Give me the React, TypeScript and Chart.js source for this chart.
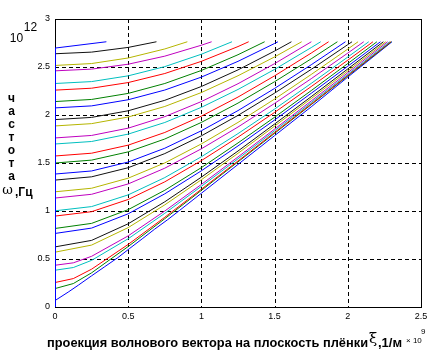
import React, { useEffect, useRef } from "react";
import { Chart, registerables } from "chart.js";
Chart.register(...registerables);

// ---- axis ticks ----
const xTicks = [0, 0.5, 1, 1.5, 2, 2.5];
const yTicks = [0, 0.5, 1, 1.5, 2, 2.5, 3];

// MATLAB classic colour order: b g r c m y k
const modeColors = ["#0000FF", "#008000", "#FF0000", "#00BFBF", "#BF00BF", "#B5B500", "#111111"];

// ---- dispersion curves [xi (x1e9 1/m), omega (x1e12 Hz)] ----
const mode00 = [[0, 0.067], [0.09, 0.155], [0.16, 0.228], [0.25, 0.325], [0.34, 0.42], [0.43, 0.515], [0.51, 0.61], [0.6, 0.715], [0.68, 0.81], [0.77, 0.91], [0.85, 1.005], [1.0, 1.185], [1.25, 1.485], [1.5, 1.785], [1.75, 2.085], [2.0, 2.395], [2.302, 2.763]];
const mode01 = [[0, 0.192], [0.125, 0.244], [0.25, 0.356], [0.5, 0.63], [0.75, 0.92], [1.0, 1.215], [1.25, 1.512], [1.5, 1.809], [1.75, 2.108], [2.0, 2.407], [2.298, 2.763]];
const mode02 = [[0, 0.255], [0.125, 0.296], [0.25, 0.394], [0.5, 0.652], [0.75, 0.935], [1.0, 1.227], [1.25, 1.521], [1.5, 1.818], [1.75, 2.115], [2.0, 2.413], [2.293, 2.763]];
const mode03 = [[0, 0.383], [0.125, 0.411], [0.25, 0.486], [0.5, 0.711], [0.75, 0.976], [1.0, 1.257], [1.25, 1.544], [1.5, 1.836], [1.75, 2.129], [2.0, 2.424], [2.286, 2.763]];
const mode04 = [[0, 0.435], [0.125, 0.46], [0.25, 0.528], [0.5, 0.741], [0.75, 1.0], [1.0, 1.277], [1.25, 1.563], [1.5, 1.853], [1.75, 2.146], [2.0, 2.441], [2.272, 2.763]];
const mode05 = [[0, 0.571], [0.25, 0.645], [0.5, 0.827], [0.75, 1.064], [1.0, 1.326], [1.25, 1.601], [1.5, 1.884], [1.75, 2.171], [2.0, 2.46], [2.259, 2.763]];
const mode06 = [[0, 0.626], [0.25, 0.694], [0.5, 0.867], [0.75, 1.096], [1.0, 1.353], [1.25, 1.625], [1.5, 1.906], [1.75, 2.191], [2.0, 2.48], [2.243, 2.763]];
const mode07 = [[0, 0.766], [0.25, 0.822], [0.5, 0.971], [0.75, 1.179], [1.0, 1.419], [1.25, 1.678], [1.5, 1.948], [1.75, 2.226], [2.0, 2.508], [2.223, 2.763]];
const mode08 = [[0, 0.818], [0.25, 0.871], [0.5, 1.014], [0.75, 1.216], [1.0, 1.452], [1.25, 1.709], [1.5, 1.977], [1.75, 2.254], [2.0, 2.536], [2.199, 2.763]];
const mode09 = [[0, 0.947], [0.25, 0.993], [0.5, 1.12], [0.75, 1.304], [1.0, 1.525], [1.25, 1.769], [1.5, 2.027], [1.75, 2.296], [2.0, 2.571], [2.172, 2.763]];
const mode10 = [[0, 1.002], [0.25, 1.046], [0.5, 1.168], [0.75, 1.348], [1.0, 1.565], [1.25, 1.806], [1.5, 2.062], [1.75, 2.329], [2.0, 2.604], [2.143, 2.763]];
const mode11 = [[0, 1.135], [0.25, 1.174], [0.5, 1.282], [0.75, 1.446], [1.0, 1.648], [1.25, 1.875], [1.5, 2.121], [1.75, 2.378], [2.0, 2.645], [2.109, 2.763]];
const mode12 = [[0, 1.2], [0.25, 1.237], [0.5, 1.342], [0.75, 1.501], [1.0, 1.699], [1.25, 1.923], [1.5, 2.166], [1.75, 2.422], [2.0, 2.687], [2.07, 2.763]];
const mode13 = [[0, 1.322], [0.25, 1.356], [0.5, 1.451], [0.75, 1.598], [1.0, 1.783], [1.25, 1.996], [1.5, 2.228], [1.75, 2.475], [2.0, 2.733], [2.029, 2.763]];
const mode14 = [[0, 1.385], [0.25, 1.417], [0.5, 1.51], [0.75, 1.654], [1.0, 1.836], [1.25, 2.046], [1.5, 2.277], [1.75, 2.523], [1.984, 2.763]];
const mode15 = [[0, 1.5], [0.25, 1.53], [0.5, 1.616], [0.75, 1.75], [1.0, 1.923], [1.25, 2.124], [1.5, 2.347], [1.75, 2.585], [1.929, 2.763]];
const mode16 = [[0, 1.573], [0.25, 1.602], [0.5, 1.686], [0.75, 1.818], [1.0, 1.988], [1.25, 2.187], [1.5, 2.408], [1.75, 2.645], [1.869, 2.763]];
const mode17 = [[0, 1.698], [0.25, 1.724], [0.5, 1.801], [0.75, 1.922], [1.0, 2.08], [1.25, 2.266], [1.5, 2.475], [1.75, 2.702], [1.815, 2.763]];
const mode18 = [[0, 1.761], [0.25, 1.787], [0.5, 1.863], [0.75, 1.983], [1.0, 2.14], [1.25, 2.326], [1.5, 2.535], [1.751, 2.763]];
const mode19 = [[0, 1.886], [0.25, 1.91], [0.5, 1.979], [0.75, 2.089], [1.0, 2.234], [1.25, 2.409], [1.5, 2.605], [1.685, 2.763]];
const mode20 = [[0, 1.952], [0.25, 1.975], [0.5, 2.044], [0.75, 2.153], [1.0, 2.297], [1.25, 2.47], [1.5, 2.666], [1.615, 2.763]];
const mode21 = [[0, 2.074], [0.25, 2.095], [0.5, 2.159], [0.75, 2.26], [1.0, 2.395], [1.25, 2.559], [1.5, 2.745], [1.523, 2.763]];
const mode22 = [[0, 2.14], [0.25, 2.162], [0.5, 2.225], [0.75, 2.328], [1.0, 2.464], [1.25, 2.628], [1.432, 2.763]];
const mode23 = [[0, 2.259], [0.25, 2.279], [0.5, 2.338], [0.75, 2.432], [1.0, 2.559], [1.25, 2.713], [1.323, 2.763]];
const mode24 = [[0, 2.328], [0.25, 2.348], [0.5, 2.408], [0.75, 2.504], [1.0, 2.633], [1.209, 2.763]];
const mode25 = [[0, 2.46], [0.25, 2.478], [0.5, 2.529], [0.75, 2.613], [1.0, 2.727], [1.07, 2.763]];
const mode26 = [[0, 2.516], [0.25, 2.536], [0.5, 2.594], [0.75, 2.688], [0.904, 2.763]];
const mode27 = [[0, 2.638], [0.25, 2.655], [0.5, 2.704], [0.693, 2.763]];
const mode28 = [[0, 2.697], [0.351, 2.763]];
const zeroXiLine = [[0, 0], [0, 2.697]];

const modes = [mode00, mode01, mode02, mode03, mode04, mode05, mode06, mode07, mode08, mode09,
  mode10, mode11, mode12, mode13, mode14, mode15, mode16, mode17, mode18, mode19,
  mode20, mode21, mode22, mode23, mode24, mode25, mode26, mode27, mode28];

// ---- texts ----
const yTitleLetters = ["ч", "а", "с", "т", "о", "т", "а"];
const yOmega = "ω";
const yUnit = ",Гц";
const yMultBase = "10";
const yMultExp = "12";
const xTitle = "проекция волнового вектора на плоскость плёнки";
const xXi = "ξ";
const xUnit = ",1/м";
const xMultBase = "× 10";
const xMultExp = "9";

const FONT = "'Liberation Sans', Arial, sans-serif";

const framePlugin = {
  id: "frame",
  beforeDatasetsDraw(chart: any) {
    const { ctx, chartArea, scales } = chart;
    const { left, right, top, bottom } = chartArea;
    ctx.save();
    ctx.strokeStyle = "#000";
    ctx.lineWidth = 1;
    ctx.setLineDash([4, 3]);
    xTicks.forEach((v) => {
      if (v <= 0 || v >= 2.5) return;
      const px = Math.round(scales.x.getPixelForValue(v)) + 0.5;
      ctx.beginPath();
      ctx.moveTo(px, top);
      ctx.lineTo(px, bottom);
      ctx.stroke();
    });
    yTicks.forEach((v) => {
      if (v <= 0 || v >= 3) return;
      const py = Math.round(scales.y.getPixelForValue(v)) + 0.5;
      ctx.beginPath();
      ctx.moveTo(left, py);
      ctx.lineTo(right, py);
      ctx.stroke();
    });
    ctx.setLineDash([]);
    ctx.strokeRect(left + 0.5, top + 0.5, right - left, bottom - top);
    ctx.restore();
  },
  afterDraw(chart: any) {
    const { ctx } = chart;
    ctx.save();
    ctx.fillStyle = "#000";
    ctx.textBaseline = "middle";
    // y title (vertical stack)
    ctx.textAlign = "center";
    ctx.font = `bold 12px ${FONT}`;
    yTitleLetters.forEach((ch, i) => ctx.fillText(ch, 11.5, 99 + i * 13));
    ctx.font = `13px 'DejaVu Serif', serif`;
    ctx.fillText(yOmega, 7.5, 191);
    ctx.textAlign = "left";
    ctx.font = `bold 12px ${FONT}`;
    ctx.fillText(yUnit, 15, 193);
    // y multiplier
    ctx.textAlign = "center";
    ctx.font = `12px ${FONT}`;
    ctx.fillText(yMultBase, 16.5, 39);
    ctx.fillText(yMultExp, 30.5, 27.5);
    // x title
    ctx.textAlign = "left";
    ctx.font = `bold 13px ${FONT}`;
    ctx.fillText(xTitle, 47, 343, 321);
    ctx.font = `15px 'DejaVu Serif', serif`;
    ctx.fillText(xXi, 369, 339);
    ctx.font = `bold 13px ${FONT}`;
    ctx.fillText(xUnit, 378, 343, 25);
    ctx.font = `8px ${FONT}`;
    ctx.fillText(xMultBase, 406, 341);
    ctx.fillText(xMultExp, 421, 332);
    ctx.restore();
  },
};

export default function App() {
  const ref = useRef<HTMLCanvasElement>(null);
  useEffect(() => {
    document.body.style.margin = "0";
    const datasets: any[] = modes.map((pts, i) => ({
      data: pts.map(([x, y]) => ({ x, y })),
      borderColor: modeColors[i % modeColors.length],
      borderWidth: 1,
      pointRadius: 0,
      showLine: true,
      fill: false,
      tension: 0,
      order: modes.length - i,
    }));
    datasets.push({
      data: zeroXiLine.map(([x, y]) => ({ x, y })),
      borderColor: "#0000FF",
      borderWidth: 2,
      pointRadius: 0,
      showLine: true,
      fill: false,
      order: 0,
    });
    const tickFont = { family: FONT, size: 9 };
    const chart = new Chart(ref.current!, {
      type: "scatter",
      data: { datasets },
      options: {
        animation: false,
        responsive: false,
        devicePixelRatio: 1,
        layout: { padding: { left: 0, right: 12, top: 19, bottom: 0 } },
        plugins: { legend: { display: false }, tooltip: { enabled: false } },
        scales: {
          x: {
            type: "linear",
            min: 0,
            max: 2.5,
            afterBuildTicks: (s: any) => { s.ticks = xTicks.map((v) => ({ value: v })); },
            afterFit: (s: any) => { s.height = 45; },
            grid: { display: false, drawTicks: false },
            border: { display: false },
            ticks: { color: "#000", font: tickFont, padding: 4, autoSkip: false, maxRotation: 0, callback: (v: any) => String(v) },
          },
          y: {
            type: "linear",
            min: 0,
            max: 3,
            afterBuildTicks: (s: any) => { s.ticks = yTicks.map((v) => ({ value: v })); },
            afterFit: (s: any) => { s.width = 55; },
            grid: { display: false, drawTicks: false },
            border: { display: false },
            ticks: { color: "#000", font: tickFont, padding: 5, autoSkip: false, callback: (v: any) => String(v) },
          },
        },
      },
      plugins: [framePlugin],
    } as any);
    return () => chart.destroy();
  }, []);
  return (
    <div style={{ width: 433, height: 352, background: "#fff" }}>
      <canvas ref={ref} width={433} height={352} style={{ display: "block", width: 433, height: 352 }} />
    </div>
  );
}
